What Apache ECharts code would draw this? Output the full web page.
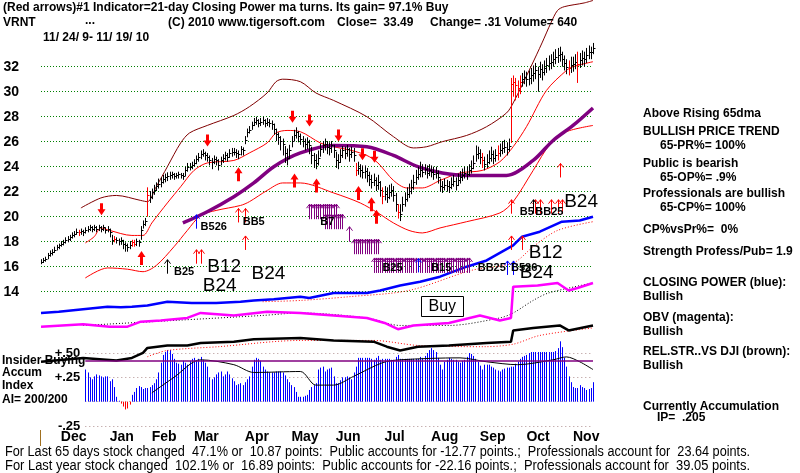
<!DOCTYPE html>
<html><head><meta charset="utf-8">
<script src="https://cdn.jsdelivr.net/npm/echarts/dist/echarts.min.js"></script>
<style>html,body{margin:0;padding:0;background:#fff}#c{width:800px;height:473px}</style>
</head><body><div id="c"></div>
<script>
// ---------- calendar ----------
const startDate = '2009-11-24', endDate = '2010-11-19';
const holidays = ['2009-11-26','2009-12-25','2010-01-01','2010-01-18','2010-02-15','2010-04-02','2010-05-31','2010-07-05','2010-09-06'];
const monthNames = ['Jan','Feb','Mar','Apr','May','Jun','Jul','Aug','Sep','Oct','Nov','Dec'];
function tradingDays(){const out=[];const d=new Date(startDate+'T00:00:00Z');const e=new Date(endDate+'T00:00:00Z');
 while(d<=e){const wd=d.getUTCDay();const s=d.toISOString().slice(0,10);if(wd!==0&&wd!==6&&holidays.indexOf(s)<0)out.push(s);d.setUTCDate(d.getUTCDate()+1);}return out;}
const dates = tradingDays();

// ---------- daily price bars ----------
const closes = [16.4,16.5,16.6,16.9,17.1,17.2,17.3,17.6,17.7,17.85,
17.95,18.15,18.25,18.35,18.55,18.65,18.8,18.75,18.85,18.75,
18.95,19.05,19.15,19.05,19.15,19.05,19.15,19.05,19.15,18.95,
19.05,18.8,18.15,18.25,18.15,18.05,18.15,17.85,17.7,17.6,
17.75,17.95,17.85,18.05,17.95,18.95,19.45,19.65,21.7,21.6,
21.95,22.15,22.45,22.65,22.75,23.05,23.15,23.25,23.35,23.45,
23.25,23.35,23.45,23.35,23.25,23.7,24.0,24.0,24.1,24.3,
24.6,24.8,25.0,25.1,24.9,24.8,24.5,24.4,24.6,24.5,
24.1,24.5,24.7,24.9,24.8,25.1,25.2,25.2,25.1,25.0,
25.4,25.3,26.15,26.75,26.95,27.35,27.6,27.7,27.5,27.6,
27.7,27.5,27.6,27.5,27.45,27.05,26.65,26.35,26.05,25.85,
25.1,24.7,25.3,26.05,26.55,26.75,26.45,26.25,26.05,25.85,
25.95,25.7,24.9,24.5,24.3,24.7,25.4,25.7,25.85,25.6,
25.5,25.7,25.3,24.5,24.4,24.9,25.3,25.1,25.4,25.0,
25.2,24.9,23.7,23.9,23.7,23.55,23.65,23.35,23.05,22.75,
22.95,22.55,22.75,22.15,21.65,21.85,21.55,21.95,22.15,21.75,
21.0,20.4,20.2,21.0,21.4,21.8,22.05,22.35,22.75,23.15,
23.45,23.7,23.6,23.8,23.5,23.7,23.6,23.45,23.5,23.15,
22.45,22.35,22.55,22.45,22.35,22.65,22.85,22.55,22.95,23.15,
23.35,23.5,23.45,23.7,23.9,24.3,25.0,25.1,24.8,24.5,
24.2,24.4,24.7,25.0,24.7,24.9,25.1,25.3,25.5,25.55,
25.4,25.65,30.6,30.8,30.5,30.3,30.8,31.0,31.2,31.0,
31.1,31.3,31.5,31.7,31.4,31.8,31.6,31.9,32.1,32.3,
32.4,32.6,32.8,32.9,33.0,32.6,32.3,32.0,31.9,32.1,
32.2,32.4,32.2,32.5,32.7,32.6,32.9,33.2,33.18,33.49];
const highs = [16.6,16.7,16.8,17.1,17.3,17.4,17.6,17.75,17.85,18.05,
18.15,18.35,18.45,18.55,18.75,18.85,19.05,18.95,19.05,18.95,
19.15,19.25,19.35,19.25,19.35,19.25,19.35,19.25,19.35,19.15,
19.25,19.05,18.55,18.45,18.35,18.25,18.35,18.15,17.95,17.85,
18.05,18.15,18.15,18.25,18.15,19.25,19.7,19.9,22.35,22.05,
22.25,22.55,22.75,23.05,23.15,23.35,23.45,23.55,23.6,23.6,
23.5,23.5,23.6,23.5,23.5,24.0,24.3,24.3,24.4,24.6,
24.9,25.1,25.3,25.4,25.2,25.1,24.9,24.7,24.9,24.8,
24.6,24.8,25.0,25.2,25.1,25.4,25.5,25.5,25.4,25.3,
25.65,25.55,26.45,27.05,27.25,27.6,27.9,28.0,27.8,27.9,
28.0,27.8,27.9,27.8,27.7,27.45,27.05,26.75,26.45,26.25,
25.65,25.45,25.75,26.45,26.95,27.15,26.85,26.65,26.45,26.25,
26.35,26.15,25.6,25.1,25.0,25.3,25.85,26.05,26.25,26.05,
25.95,26.05,25.75,25.2,25.0,25.4,25.65,25.6,25.75,25.5,
25.6,25.5,24.3,24.4,24.2,24.1,24.1,23.9,23.6,23.35,
23.45,23.15,23.35,22.85,22.35,22.45,22.35,22.55,22.65,22.45,
21.9,21.0,21.0,21.6,21.95,22.35,22.65,22.95,23.35,23.75,
24.0,24.4,24.2,24.2,24.1,24.2,24.1,24.0,24.0,23.7,
23.05,22.85,23.05,22.95,22.85,23.15,23.35,23.15,23.45,23.65,
23.85,24.0,24.0,24.2,24.5,24.9,25.7,25.6,25.4,25.1,
24.8,25.0,25.3,25.6,25.3,25.4,25.7,25.85,26.05,26.15,
25.95,26.25,31.1,31.3,31.1,30.9,31.3,31.5,31.7,31.6,
31.7,31.9,32.1,32.3,32.0,32.4,32.2,32.5,32.7,32.9,
33.0,33.2,33.4,33.5,33.6,33.2,32.9,32.6,32.5,32.8,
32.8,33.0,33.2,33.1,33.3,33.2,33.5,33.7,33.6,33.9];
const lows = [16.2,16.3,16.4,16.6,16.8,16.9,17.1,17.3,17.4,17.6,
17.7,17.85,17.95,18.05,18.25,18.35,18.55,18.45,18.55,18.45,
18.65,18.75,18.85,18.75,18.85,18.75,18.85,18.75,18.85,18.65,
18.75,18.35,17.75,17.95,17.85,17.7,17.75,17.4,17.2,17.2,
17.4,17.6,17.6,17.65,17.6,18.15,19.05,19.25,20.0,21.1,
21.4,21.75,22.05,22.25,22.35,22.65,22.75,22.85,22.95,23.05,
22.95,23.05,23.05,23.05,22.95,23.25,23.6,23.7,23.8,24.0,
24.2,24.4,24.6,24.8,24.5,24.4,24.1,23.8,24.2,24.1,
23.7,24.1,24.3,24.5,24.4,24.7,24.8,24.9,24.7,24.6,
24.9,24.9,25.8,26.35,26.65,26.95,27.25,27.35,27.15,27.25,
27.35,27.15,27.25,27.15,26.95,26.55,26.05,25.75,25.3,24.9,
24.3,24.1,24.6,25.55,26.05,26.25,25.95,25.75,25.55,25.3,
25.4,25.0,24.2,23.9,23.8,24.1,24.8,25.1,25.3,25.0,
24.9,25.1,24.7,23.9,23.8,24.3,24.7,24.6,24.8,24.4,
24.7,24.4,23.25,23.35,23.15,23.05,23.05,22.75,22.45,22.25,
22.45,22.05,22.15,21.6,21.0,21.3,21.1,21.4,21.6,21.2,
20.4,19.85,19.65,20.4,20.8,21.2,21.5,21.8,22.15,22.55,
22.95,23.15,23.15,23.35,23.05,23.25,23.15,22.95,23.05,22.65,
22.0,21.9,22.1,22.0,21.9,22.2,22.4,22.1,22.45,22.65,
22.85,23.05,22.95,23.25,23.45,23.8,24.4,24.6,24.2,23.9,
23.7,23.9,24.2,24.4,24.2,24.4,24.5,24.8,25.0,25.1,
24.9,25.2,25.9,29.6,29.3,29.5,29.8,30.4,30.6,30.4,
30.5,30.6,30.8,31.0,30.0,31.1,30.9,31.3,31.5,31.7,
31.8,32.0,32.2,32.3,32.4,32.0,31.7,31.4,31.3,31.5,
31.6,31.8,30.7,31.9,32.1,32.0,32.3,32.6,32.6,33.0];
const redBarDays = [17,33,41,42,48,142,154,161,199,206,212,213,214,215,216,238,242];

// ---------- bands & averages: [day index, value] ----------
const upperBand = [[18,20.7],[27,21.5],[34,21.7],[45,21.3],[48,21.2],[52,22.4],[57,24.0],[63,25.9],[67,26.7],[75,27.3],[87,28.1],[94,28.8],[102,29.9],[106,30.8],[109,31.0],[117,30.8],[124,29.9],[132,29.3],[147,28.0],[159,26.4],[168,25.5],[174,25.6],[181,26.0],[192,26.5],[201,27.2],[210,28.3],[213,29.1],[221,32.0],[226,33.9],[230,35.5],[233,36.5],[236,36.8],[245,37.1],[249,37.3]];
const redUpper = [[20,17.9],[24,18.4],[27,19.1],[31,18.9],[41,18.5],[46,18.5],[50,19.5],[57,21.1],[63,22.4],[69,23.7],[75,24.3],[87,24.5],[94,25.1],[102,25.9],[106,26.7],[111,26.9],[117,26.8],[126,25.9],[132,25.6],[140,25.3],[147,24.9],[152,24.3],[159,22.9],[165,22.3],[172,22.3],[180,22.9],[189,23.5],[199,23.7],[207,24.4],[213,25.6],[219,27.2],[228,30.1],[237,31.7],[240,32.0],[249,32.4]];
const redLower = [[20,15.1],[30,15.9],[39,15.8],[46,15.6],[52,16.1],[60,17.6],[66,18.9],[72,20.1],[79,20.5],[90,20.9],[94,21.2],[102,22.1],[109,22.7],[117,22.7],[132,21.9],[144,21.1],[152,20.3],[159,19.5],[166,18.9],[172,18.7],[180,19.1],[192,19.6],[207,20.3],[213,21.2],[222,23.7],[230,25.9],[237,26.8],[249,27.3]];
const ma65 = [[64,19.5],[75,20.4],[87,21.6],[96,22.7],[105,24.0],[117,25.1],[132,25.7],[147,25.6],[159,24.9],[170,24.0],[181,23.5],[192,23.3],[210,23.3],[222,24.5],[231,26.1],[240,27.3],[249,28.7]];

// ---------- lower indicator lines (drawn in chart units) ----------
const closingPower = [[0,12.3],[8,12.4],[19,12.6],[30,12.8],[36,12.75],[41,12.8],[48,12.9],[57,13.2],[68,13.1],[79,13.1],[90,13.2],[96,13.3],[105,13.4],[117,13.6],[121,13.5],[132,13.9],[147,13.9],[153,14.1],[162,14.5],[171,14.8],[180,15.2],[192,16.0],[201,16.5],[208,17.2],[213,17.7],[217,18.4],[225,18.8],[235,19.6],[243,19.7],[249,20.0]];
const closingPowerMA = [[100,13.2],[117,13.3],[139,13.6],[166,14.1],[194,15.7],[213,16.3],[222,17.6],[233,18.9],[249,19.6]];
const obv = [[0,11.2],[19,11.4],[31,11.2],[39,11.2],[45,11.6],[54,11.7],[66,11.9],[72,12.3],[87,12.1],[102,12.4],[117,12.3],[147,11.9],[155,11.5],[161,11.0],[168,11.3],[184,11.5],[198,12.1],[207,11.7],[212,11.9],[213,14.4],[224,14.5],[233,14.7],[238,14.1],[242,14.3],[249,14.7]];
const obvMA = [[19,11.3],[60,11.7],[100,12.1],[117,12.3],[147,11.9],[162,11.3],[184,11.3],[207,11.9],[213,12.3],[222,13.3],[229,13.9],[249,14.7]];
const relStr = [[0,8.4],[19,8.7],[34,8.5],[41,8.7],[46,9.1],[48,9.5],[57,9.7],[66,9.7],[72,9.9],[87,10.0],[96,10.2],[117,10.3],[132,10.1],[150,10.0],[156,9.6],[162,9.3],[170,9.6],[184,9.7],[201,9.9],[212,10.0],[213,10.9],[222,11.1],[234,11.3],[238,10.9],[249,11.3]];
const relStrMA = [[48,8.8],[57,9.3],[80,9.6],[117,10.1],[150,10.1],[170,9.7],[200,9.6],[213,9.8],[225,10.5],[249,11.1]];

// ---------- accumulation index (from day 20) ----------
const aiStart = 20;
const accumIndex = [.33,.30,.25,.23,.26,.28,.27,.26,.25,.26,
.26,.21,.23,.15,.05,.01,-.02,-.05,-.08,-.07,
-.03,.07,.10,.14,.16,.15,.13,.14,.14,.15,
.17,.19,.23,.30,.40,.48,.51,.53,.53,.49,
.44,.40,.39,.38,.42,.40,.38,.42,.44,.45,
.42,.44,.46,.43,.40,.36,.25,.23,.25,.28,
.30,.31,.26,.28,.31,.28,.24,.21,.17,.18,
.19,.17,.20,.23,.26,.36,.43,.45,.44,.42,
.36,.33,.31,.30,.30,.30,.31,.31,.31,.30,
.27,.23,.20,.17,.15,.10,.05,.05,.05,.06,
.07,.12,.15,.17,.19,.33,.35,.36,.31,.33,
.34,.35,.26,.19,.19,.22,.25,.25,.26,.25,
.23,.30,.36,.45,.45,.45,.45,.45,.45,.44,
.43,.45,.47,.43,.44,.44,.44,.44,.43,.43,
.46,.48,.44,.44,.44,.44,.44,.44,.44,.44,
.44,.46,.45,.47,.50,.53,.55,.53,.51,.45,
.38,.33,.41,.43,.45,.44,.43,.43,.41,.40,
.42,.43,.46,.50,.49,.47,.44,.41,.37,.33,
.38,.38,.38,.36,.35,.33,.32,.31,.33,.34,
.35,.35,.36,.36,.39,.41,.44,.46,.47,.48,
.50,.51,.51,.51,.51,.51,.51,.51,.51,.51,
.51,.51,.52,.55,.62,.56,.45,.36,.26,.20,
.15,.14,.14,.17,.15,.14,.12,.13,.14,.20];
const accumMA = [[50,.09],[60,.25],[72,.43],[87,.38],[96,.30],[117,.31],[124,.17],[132,.17],[141,.26],[154,.40],[162,.43],[189,.45],[201,.41],[215,.38],[231,.43],[237,.46],[243,.41],[249,.33]];
const insiderLevel = 0.42;
const accumTicks = {'0.5':'+.50','0.25':'+.25','-0.25':'-.25'};

// ---------- signals ----------
const redDownArrows = [[27,20.6],[75,26.1],[113,28.0],[121,27.7],[134,26.5],[145,25.0],[150,24.8]];
const redUpArrows = [[45,16.7],[89,23.4],[114,22.9],[124,22.5],[143,21.9],[149,21.0],[151,20.0]];
const thinRedArrows = [[70,16.8],[72,16.8],[89,20.1],[92,20.1],[92,17.9],[212,20.8],[223,20.8],[225,20.8],[230,20.8],[233,20.8],[235,20.8],[234,23.7],[212,17.9],[217,17.9]];
const thinBlueArrows = [[70,19.6],[170,16.1],[210,15.9],[213,15.9]];
const thinBlackArrows = [[57,16.0],[222,20.8]];
const purpleArrows = [[121,20.4],[122,20.4],[123,20.4],[124,20.4],[125,20.4],[126,20.4],[127,20.4],[128,20.4],[129,20.4],[130,20.4],[131,20.4],[132,20.4],[133,20.4],
[128,19.6],[129,19.6],[130,19.6],[131,19.6],[132,19.6],[133,19.6],[134,19.6],[135,19.6],[136,19.6],[139,18.6],
[141,17.6],[142,17.6],[143,17.6],[144,17.6],[145,17.6],[146,17.6],[147,17.6],[148,17.6],[149,17.6],[150,17.6],[151,17.6],[152,17.6],
[150,16.1],[151,16.1],[152,16.1],[153,16.1],[154,16.1],[155,16.1],[156,16.1],[157,16.1],[158,16.1],[159,16.1],[160,16.1],[161,16.1],[162,16.1],[163,16.1],[164,16.1],[165,16.1],[166,16.1],[167,16.1],[168,16.1],[169,16.1],[171,16.1],[172,16.1],[173,16.1],[174,16.1],[175,16.1],[176,16.1],[177,16.1],[178,16.1],[179,16.1],[180,16.1],[181,16.1],[182,16.1],[183,16.1],[184,16.1],[185,16.1],[186,16.1],[187,16.1],[188,16.1],[189,16.1],[190,16.1],[191,16.1],[192,16.1],[193,16.1]];
const smallLabels = [['B25',60,15.6],['B526',72,19.2],['BB5',91,19.6],['B7',126,19.6],['B25',154,15.9],['B15',176,15.9],['B5',216,20.4],['BB25',223,20.4],['BB25',197,15.9],['B526',212,15.9]];
const bigLabels = [['B12',75,16.0],['B24',73,14.5],['B24',95,15.4],['B24',236,21.2],['B12',220,17.1],['B24',216,15.5]];
const buyBox = [[181,12.86]];

// ---------- build ----------
const F = '"Liberation Sans", Arial, sans-serif';
const bars = closes.map((c,i)=>[i, highs[i], lows[i], c, redBarDays.indexOf(i)>=0?1:0]);
function lineS(data, color, width, dashed, smooth){
  return {type:'line', xAxisIndex:0, yAxisIndex:0, data:data, symbol:'none', showSymbol:false, clip:false, smooth:smooth===undefined?0.3:smooth,
    lineStyle:{color:color, width:width, type: dashed?[1,2]:'solid'}, z:3, silent:true};
}
function arrowSeries(data, kind, color){
  return {type:'custom', xAxisIndex:0, yAxisIndex:0, data:data, clip:false, z:6, silent:true,
    renderItem:function(params, api){
      const p = api.coord([api.value(0), api.value(1)]); const x=Math.round(p[0])+0.5, y=p[1];
      if(kind==='down'){return {type:'polygon', shape:{points:[[x-1.5,y-6],[x+1.5,y-6],[x+1.5,y],[x+4,y],[x,y+6],[x-4,y],[x-1.5,y]]}, style:{fill:color}};}
      if(kind==='up'){return {type:'polygon', shape:{points:[[x-1.5,y+7],[x+1.5,y+7],[x+1.5,y-1],[x+4,y-1],[x,y-7],[x-4,y-1],[x-1.5,y-1]]}, style:{fill:color}};}
      const h = kind==='purple'?15:14;
      return {type:'group', children:[
        {type:'line', shape:{x1:x,y1:y-h/2,x2:x,y2:y+h/2}, style:{stroke:color,lineWidth:1}},
        {type:'polyline', shape:{points:[[x-3,y-h/2+4],[x,y-h/2],[x+3,y-h/2+4]]}, style:{stroke:color,lineWidth:1,fill:null}}]};
    }};
}
function labelSeries(list, font){
  return {type:'custom', xAxisIndex:0, yAxisIndex:0, data:list.map(l=>[l[1],l[2]]), clip:false, z:8, silent:true,
    renderItem:function(params, api){const p=api.coord([api.value(0),api.value(1)]);
      return {type:'text', x:p[0], y:p[1], style:{text:list[params.dataIndex][0], font:font, fill:'#000', align:'left', verticalAlign:'middle'}};}};
}
const series = [
  lineS(upperBand,'#800000',1),
  lineS(redUpper,'#ff0000',1),
  lineS(redLower,'#ff0000',1),
  lineS(ma65,'#800080',3.5),
  lineS(closingPowerMA,'#ff0000',1,true),
  lineS(closingPower,'#0000ff',2.5,false,0),
  lineS(obvMA,'#000000',1,true),
  lineS(obv,'#ff00ff',2.5,false,0),
  lineS(relStrMA,'#ff0000',1,true),
  lineS(relStr,'#000000',2.5,false,0),
  {type:'custom', xAxisIndex:0, yAxisIndex:0, data:bars, clip:false, z:4, silent:true,
   renderItem:function(params, api){
     const i=api.value(0); const ph=api.coord([i,api.value(1)]), pl=api.coord([i,api.value(2)]), pc=api.coord([i,api.value(3)]);
     const col = api.value(4)?'#ff0000':'#000000'; const x=Math.round(ph[0])+0.5;
     return {type:'group', children:[
       {type:'line', shape:{x1:x,y1:ph[1],x2:x,y2:pl[1]}, style:{stroke:col,lineWidth:1}},
       {type:'line', shape:{x1:x,y1:Math.round(pc[1])+0.5,x2:x+2,y2:Math.round(pc[1])+0.5}, style:{stroke:col,lineWidth:1}}]};
   }},
  arrowSeries(redDownArrows,'down','#ff0000'),
  arrowSeries(redUpArrows,'up','#ff0000'),
  arrowSeries(purpleArrows,'purple','#800080'),
  arrowSeries(thinRedArrows,'thin','#ff0000'),
  arrowSeries(thinBlueArrows,'thin','#0000ff'),
  arrowSeries(thinBlackArrows,'thin','#000000'),
  labelSeries(smallLabels,'bold 11px '+F),
  labelSeries(bigLabels,'19px '+F),
  {type:'custom', xAxisIndex:0, yAxisIndex:0, data:buyBox, clip:false, z:8, silent:true,
   renderItem:function(params, api){const p=api.coord([api.value(0),api.value(1)]);
     return {type:'group', children:[
       {type:'rect', shape:{x:Math.round(p[0]-21)+0.5,y:Math.round(p[1]-10)+0.5,width:42,height:20}, style:{fill:'#fff',stroke:'#000',lineWidth:1}},
       {type:'text', x:p[0], y:p[1]+1, style:{text:'Buy', font:'16px '+F, fill:'#000', align:'center', verticalAlign:'middle'}}]};}},
  // accumulation index histogram
  {type:'custom', xAxisIndex:1, yAxisIndex:1, data:accumIndex.map((v,k)=>[aiStart+k, v]), clip:false, z:3, silent:true,
   renderItem:function(params, api){const i=api.value(0), v=api.value(1); const p0=api.coord([i,0]), p1=api.coord([i,v]); const x=Math.round(p0[0])+0.5;
     return {type:'line', shape:{x1:x,y1:p0[1],x2:x,y2:p1[1]}, style:{stroke: v<0?'#ff0000':'#0000ff', lineWidth:1}};}},
  {type:'line', xAxisIndex:1, yAxisIndex:1, data:accumMA, symbol:'none', smooth:0.3, clip:false, z:4, silent:true, lineStyle:{color:'#000',width:1},
   markLine:{silent:true, symbol:'none', label:{show:false}, lineStyle:{color:'#800080', width:1.5, type:'solid'}, data:[{yAxis:insiderLevel}]}}
];

const texts = [
  [3,8,'(Red arrows)#1 Indicator=21-day Closing Power ma turns. Its gain= 97.1% Buy'],
  [3,23,'VRNT'],[85,21,'...'],[168,23,'(C) 2010 www.tigersoft.com'],[337,23,'Close=  33.49'],[430,23,'Change= .31 Volume= 640'],
  [43,38,'11/ 24/ 9- 11/ 19/ 10'],
  [643,114,'Above Rising 65dma'],[643,132,'BULLISH PRICE TREND'],[660,146,'65-PR%= 100%'],
  [643,164,'Public is bearish'],[660,178,'65-OP%= .9%'],[643,194,'Professionals are bullish'],[660,208,'65-CP%= 100%'],
  [643,230,'CP%vsPr%=  0%'],[643,252,'Strength Profess/Pub= 1.9'],
  [643,283,'CLOSING POWER (blue):'],[643,297,'Bullish'],[643,318,'OBV (magenta):'],[643,332,'Bullish'],
  [643,352,'REL.STR..VS DJI (brown):'],[643,366,'Bullish'],[643,407,'Currently Accumulation'],[657,418,'IP=  .205'],
  [2,361,'Insider Buying'],[2,373,'Accum'],[2,386,'Index'],[2,400,'AI= 200/200']
];
const footer = [
  [5,452,'For Last 65 days stock changed  47.1% or  10.87 points:  Public accounts for -12.77 points.;  Professionals account for  23.64 points.'],
  [5,466,'For Last year stock changed  102.1% or  16.89 points:  Public accounts for -22.16 points.;  Professionals account for  39.05 points.']
];
const footerFont = '14px "Liberation Sans", Arial, sans-serif';
const footerWidth = 745;
const measureCtx = document.createElement('canvas').getContext('2d');
measureCtx.font = footerFont;
const graphic = texts.map(t=>({type:'text', x:t[0], y:t[1], z:10, silent:true, style:{text:t[2], font:'bold 12px '+F, fill:'#000', verticalAlign:'middle'}}))
  .concat(footer.map(t=>{const w=measureCtx.measureText(t[2]).width||footerWidth; return {type:'text', x:t[0], y:t[1], scaleX:footerWidth/w, z:10, silent:true, style:{text:t[2], font:footerFont, fill:'#000', verticalAlign:'middle'}};}))
  .concat([{type:'line', shape:{x1:40.5,y1:430,x2:40.5,y2:446}, style:{stroke:'#a07020', lineWidth:1}, silent:true}]);

const chart = echarts.init(document.getElementById('c'), null, {renderer:'canvas'});
chart.setOption({
  animation:false, backgroundColor:'#fff',
  grid:[{left:41, right:207, top:66.7, bottom:181.3}, {left:85.3, right:207, top:353, bottom:47}],
  xAxis:[
    {type:'category', gridIndex:0, data:dates, boundaryGap:false, offset:132, axisLine:{show:false}, axisTick:{show:false}, splitLine:{show:false},
     axisLabel:{interval:function(idx){return idx>0 && dates[idx].slice(5,7)!==dates[idx-1].slice(5,7);},
       formatter:function(v){return monthNames[parseInt(v.slice(5,7),10)-1];}, align:'left', padding:[0,0,0,11], margin:6,
       fontSize:14, fontWeight:'bold', color:'#000', fontFamily:F}},
    {type:'category', gridIndex:1, data:dates, boundaryGap:false, min:aiStart, show:false}
  ],
  yAxis:[
    {type:'value', gridIndex:0, min:14, max:32, interval:2, axisLine:{show:false}, axisTick:{show:false},
     splitLine:{show:true, lineStyle:{color:'#008000', width:1, type:[1,2]}},
     axisLabel:{fontSize:14, fontWeight:'bold', color:'#000', fontFamily:F, margin:22}},
    {type:'value', gridIndex:1, min:-0.25, max:0.5, interval:0.25, axisLine:{show:false}, axisTick:{show:false},
     splitLine:{show:true, lineStyle:{color:'#b09090', width:1, type:[1,3]}},
     axisLabel:{formatter:function(v){return accumTicks[String(v)]||'';}, fontSize:13, fontWeight:'bold', color:'#000', fontFamily:F, margin:5}}
  ],
  series:series,
  graphic:graphic
});
</script></body></html>
